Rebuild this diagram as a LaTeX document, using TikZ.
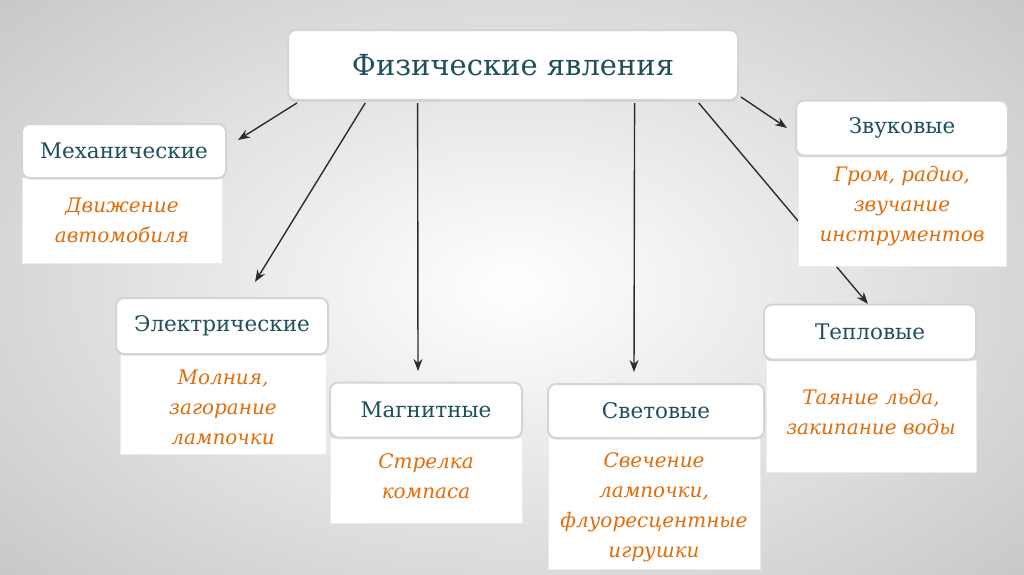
\documentclass[tikz,border=0pt]{standalone}
\usepackage{fontspec}
\setmainfont{DejaVu Serif}
\usetikzlibrary{arrows.meta,shadows,calc}
\definecolor{teal1}{RGB}{31,79,92}
\definecolor{orng}{RGB}{227,108,10}
\definecolor{frame}{RGB}{212,212,212}
\definecolor{arrowc}{RGB}{45,45,45}
\begin{document}
\begin{tikzpicture}[x=1pt,y=-1pt,
  head/.style={draw=frame, line width=2pt, fill=white, rounded corners=8pt,
    text=teal1, font=\fontsize{21.5}{26}\selectfont, inner sep=0pt,
    drop shadow={opacity=0.12, shadow xshift=0pt, shadow yshift=-2pt}},
  desc/.style={draw=black!8, line width=0.8pt, fill=white, inner sep=0pt},
  desctext/.style={text=orng, font=\fontsize{20}{30}\selectfont\itshape, align=center, inner sep=0pt},
  arr/.style={draw=arrowc, line width=1.4pt, -{Stealth[length=12pt,width=9pt]}}
]
\useasboundingbox (0,0) rectangle (1024,574);
\shade[inner color=white, outer color=black!22] (-200,-150) rectangle (1224,724);

% title
\node[head, minimum width=450, minimum height=70, font=\fontsize{29}{34}\selectfont] (top) at (513,65) {Физические явления};

% free ends
\coordinate (e1) at (238,140);
\coordinate (e2) at (255,282);
\coordinate (e3) at (418,371);
\coordinate (e4) at (634,372);
\coordinate (e5) at (868,304);
\coordinate (e6) at (787,128);

% connectors
\draw[arr] ($(top.south west)!0.022!(top.south east)+(0,2)$) -- (e1);
\draw[arr] ($(top.south west)!0.173!(top.south east)+(0,2)$) -- (e2);
\draw[arr] ($(top.south west)!0.289!(top.south east)+(0,2)$) -- (e3);
\draw[arr] ($(top.south west)!0.769!(top.south east)+(0,2)$) -- (e4);
\draw[arr] ($(top.south west)!0.911!(top.south east)+(0,2)$) -- (e5);
\draw[arr] ($(top.south east)+(2,-4)$) -- (e6);

% Механические
\node[desc, minimum width=200, minimum height=86] (mechd) at (122,220) {};
\node[head, minimum width=204, minimum height=54] (mech) at (124,151) {Механические};
\node[desctext] (mecht) at (122,220) {Движение\\автомобиля};

% Электрические
\node[desc, minimum width=206, minimum height=100] (elecd) at (223,404) {};
\node[head, minimum width=212, minimum height=56] (elec) at (222,326) {Электрические};
\node[desctext] (elect) at (223,407) {Молния,\\загорание\\лампочки};

% Магнитные
\node[desc, minimum width=192, minimum height=86] (magd) at (426,480) {};
\node[head, minimum width=192, minimum height=55] (mag) at (426,410) {Магнитные};
\node[desctext] (magt) at (426,476) {Стрелка\\компаса};

% Световые
\node[desc, minimum width=212, minimum height=132] (svd) at (654,503) {};
\node[head, minimum width=216, minimum height=54] (sv) at (656,411) {Световые};
\node[desctext] (svt) at (654,507) {Свечение\\лампочки,\\флуоресцентные\\игрушки};

% Тепловые
\node[desc, minimum width=210, minimum height=112] (tepd) at (871,416) {};
\node[head, minimum width=212, minimum height=55] (tep) at (870,332) {Тепловые};
\node[desctext] (tept) at (871,412) {Таяние льда,\\закипание воды};

% Звуковые
\node[desc, minimum width=208, minimum height=110] (zvd) at (902,211) {};
\node[head, minimum width=212, minimum height=55] (zv) at (902,128) {Звуковые};
\node[desctext] (zvt) at (902,206) {Гром, радио,\\звучание\\инструментов};
\end{tikzpicture}
\end{document}
